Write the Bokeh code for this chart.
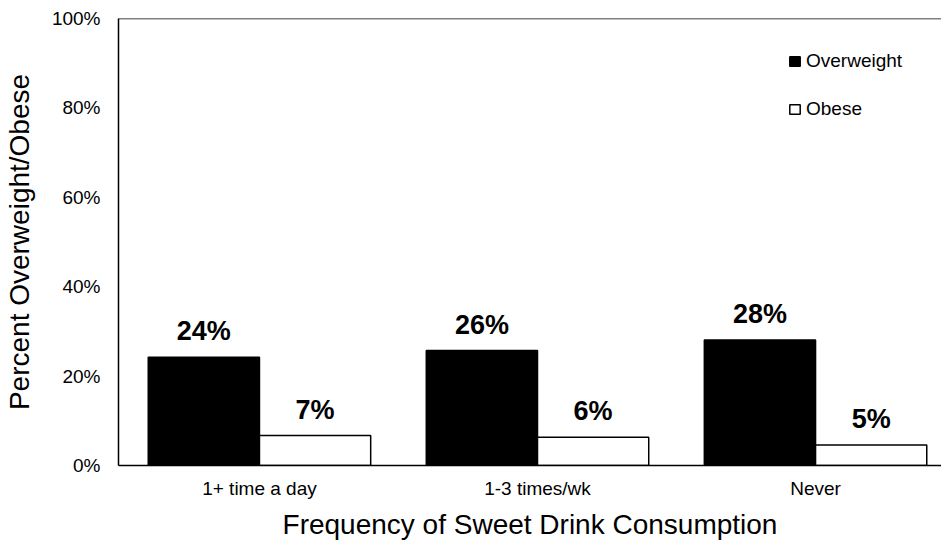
from bokeh.plotting import figure
from bokeh.models import (ColumnDataSource, Range1d, FixedTicker, PrintfTickFormatter,
                          Span, Legend, LegendItem)
from bokeh.core.properties import value
from bokeh.transform import dodge
from bokeh.embed import file_html
from bokeh.resources import INLINE

categories = ["1+ time a day", "1-3 times/wk", "Never"]
overweight = [24.2, 25.7, 28.1]
obese = [6.7, 6.3, 4.6]
overweight_labels = ["24%", "26%", "28%"]
obese_labels = ["7%", "6%", "5%"]
y_ticks = [0, 20, 40, 60, 80, 100]

FONT = "Liberation Sans"
pos = [i + 0.5 for i in range(len(categories))]

src = ColumnDataSource(dict(x=pos, ow=overweight, ob=obese,
                            owl=overweight_labels, obl=obese_labels))

p = figure(frame_width=823, frame_height=447,
           x_range=Range1d(-0.007, 2.953), y_range=Range1d(0, 100),
           output_backend="svg", toolbar_location=None,
           min_border_left=0, min_border_right=0, min_border_top=18, min_border_bottom=0)
p.outline_line_color = None
p.grid.visible = False

r1 = p.vbar(x=dodge("x", -0.2, range=p.x_range), top="ow", width=0.4, source=src,
            fill_color="black", line_color="black", line_width=1.5)
r2 = p.vbar(x=dodge("x", 0.2, range=p.x_range), top="ob", width=0.4, source=src,
            fill_color="white", line_color="black", line_width=1.5)

p.text(x=dodge("x", -0.2, range=p.x_range), y="ow", text="owl", source=src,
       text_align="center", text_baseline="alphabetic", y_offset=-26,
       text_font=value(FONT), text_font_size="27px", text_font_style="bold", text_color="black")
p.text(x=dodge("x", 0.2, range=p.x_range), y="ob", text="obl", source=src,
       text_align="center", text_baseline="alphabetic", y_offset=-26,
       text_font=value(FONT), text_font_size="27px", text_font_style="bold", text_color="black")

p.add_layout(Span(location=100, dimension="width", line_color="black", line_width=1.5))

xa = p.xaxis[0]
xa.ticker = FixedTicker(ticks=pos)
xa.major_label_overrides = {pos[i]: categories[i] for i in range(len(categories))}
xa.axis_label = "Frequency of Sweet Drink Consumption"
xa.major_label_standoff = 12
xa.axis_label_standoff = 7
xa.axis_line_color = "black"
xa.axis_line_width = 1.5

ya = p.yaxis[0]
ya.ticker = FixedTicker(ticks=y_ticks)
ya.formatter = PrintfTickFormatter(format="%d%%")
ya.axis_label = "Percent Overweight/Obese"
ya.major_label_standoff = 18
ya.axis_label_standoff = 14
ya.axis_line_color = "black"
ya.axis_line_width = 1.5

for ax in (xa, ya):
    ax.major_tick_line_color = None
    ax.minor_tick_line_color = None
    ax.major_tick_out = 0
    ax.major_tick_in = 0
    ax.minor_tick_out = 0
    ax.minor_tick_in = 0
    ax.major_label_text_font = FONT
    ax.major_label_text_font_size = "19px"
    ax.major_label_text_color = "black"
    ax.axis_label_text_font = FONT
    ax.axis_label_text_font_size = "28px"
    ax.axis_label_text_font_style = "normal"
    ax.axis_label_text_color = "black"

legend = Legend(items=[LegendItem(label="Overweight", renderers=[r1]),
                       LegendItem(label="Obese", renderers=[r2])],
                location=(670, 345), orientation="vertical",
                glyph_width=13, glyph_height=12, label_standoff=5,
                label_height=22, spacing=26, padding=0,
                label_text_font=FONT, label_text_font_size="19px",
                label_text_color="black",
                border_line_color=None, background_fill_alpha=0)
p.add_layout(legend)

open("out.html", "w").write(file_html(p, INLINE))
